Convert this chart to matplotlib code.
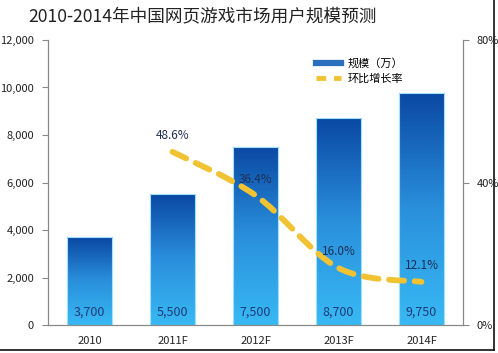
import numpy as np
import matplotlib.pyplot as plt
from matplotlib.path import Path
from matplotlib.patches import PathPatch
from matplotlib.lines import Line2D
from matplotlib.ticker import FuncFormatter
from matplotlib.colors import LinearSegmentedColormap

plt.rcParams['font.family'] = ['Noto Sans CJK SC', 'DejaVu Sans']

years = ['2010', '2011F', '2012F', '2013F', '2014F']
users = [3700, 5500, 7500, 8700, 9750]          # 规模（万）
growth_years = [1, 2, 3, 4]                     # index into years
growth = [48.6, 36.4, 16.0, 12.1]               # 环比增长率 %

title = '2010-2014年中国网页游戏市场用户规模预测'

fig = plt.figure(figsize=(4.98, 3.53), dpi=100)
ax = fig.add_axes([0.0964, 0.0793, 0.8333, 0.8074])
ax2 = ax.twinx()

x = np.arange(len(years))
bw = 0.55

# gradient bars: dark blue on top, light cyan at the bottom
grad = np.linspace(0, 1, 256).reshape(-1, 1)
cmap = LinearSegmentedColormap.from_list('b', ['#38b9f4', '#2a90dc', '#0a48a4'])
bars = ax.bar(x, users, width=bw, color='none', edgecolor='#9fe0fb', linewidth=0.8, zorder=2)
for b in bars:
    x0, h = b.get_x(), b.get_height()
    im = ax.imshow(grad, cmap=cmap, origin='lower', aspect='auto',
                   extent=(x0, x0 + b.get_width(), 0, h), zorder=1)
    im.set_clip_path(b)
for xi, v in zip(x, users):
    ax.text(xi, 550, f'{v:,}', ha='center', va='center', fontsize=9, color='#1d3c78', zorder=3)

ax.set_xlim(-0.5, len(years) - 0.5)
ax.set_ylim(0, 12000)
ax.set_yticks(np.arange(0, 12001, 2000))
ax.yaxis.set_major_formatter(FuncFormatter(lambda v, p: f'{int(v):,}'))
ax.set_xticks(x)
ax.set_xticklabels(years)
ax.tick_params(axis='x', length=0, pad=8, labelsize=8, colors='#222222')
ax.tick_params(axis='y', length=4, width=0.8, color='#888888', labelsize=8, labelcolor='#222222', pad=6)

ax2.set_ylim(0, 80)
ax2.set_yticks([0, 40, 80])
ax2.yaxis.set_major_formatter(FuncFormatter(lambda v, p: f'{int(v)}%'))
ax2.tick_params(axis='y', length=4, width=0.8, color='#888888', labelsize=8, labelcolor='#222222', pad=6)

for a in (ax, ax2):
    a.spines['top'].set_visible(False)
    for s in ('left', 'right', 'bottom'):
        a.spines[s].set_color('#888888')
        a.spines[s].set_linewidth(0.8)

# smoothed growth line (Catmull-Rom to Bezier through the data points)
pts = np.column_stack([growth_years, growth]).astype(float)
ext = np.vstack([pts[0], pts, pts[-1]])
verts = [tuple(pts[0])]
codes = [Path.MOVETO]
for i in range(1, len(ext) - 2):
    p0, p1, p2, p3 = ext[i - 1], ext[i], ext[i + 1], ext[i + 2]
    c1 = p1 + (p2 - p0) / 6
    c2 = p2 - (p3 - p1) / 6
    verts += [tuple(c1), tuple(c2), tuple(p2)]
    codes += [Path.CURVE4] * 3
curve = PathPatch(Path(verts, codes), facecolor='none', edgecolor='#f1c232',
                  lw=4.2, linestyle=(0, (2.6, 1.8)), capstyle='round', zorder=4)
ax2.add_patch(curve)
for xi, g in zip(growth_years, growth):
    ax2.annotate(f'{g:.1f}%', (xi, g), xytext=(0, 7), textcoords='offset points',
                 ha='center', va='bottom', fontsize=8.5, color='#1d2f55', zorder=5)

handles = [Line2D([], [], color='#2a6fbd', lw=4.5),
           Line2D([], [], color='#f1c232', lw=3.5, linestyle=(0, (2, 1.6)))]
fig.legend(handles, ['规模（万）', '环比增长率'], loc='upper left',
           bbox_to_anchor=(0.615, 0.865), frameon=False, fontsize=8,
           handlelength=2.2, handletextpad=0.6, labelspacing=0.45)

fig.text(0.056, 0.955, title, fontsize=12.7, color='#222222', va='center', ha='left')

# image frame on right and bottom
fig.add_artist(Line2D([0, 0.992], [0.008, 0.008], color='#111111', lw=1.2, transform=fig.transFigure))
fig.add_artist(Line2D([0.992, 0.992], [0.008, 1], color='#111111', lw=1.2, transform=fig.transFigure))

fig.savefig('out.png', dpi=100)
